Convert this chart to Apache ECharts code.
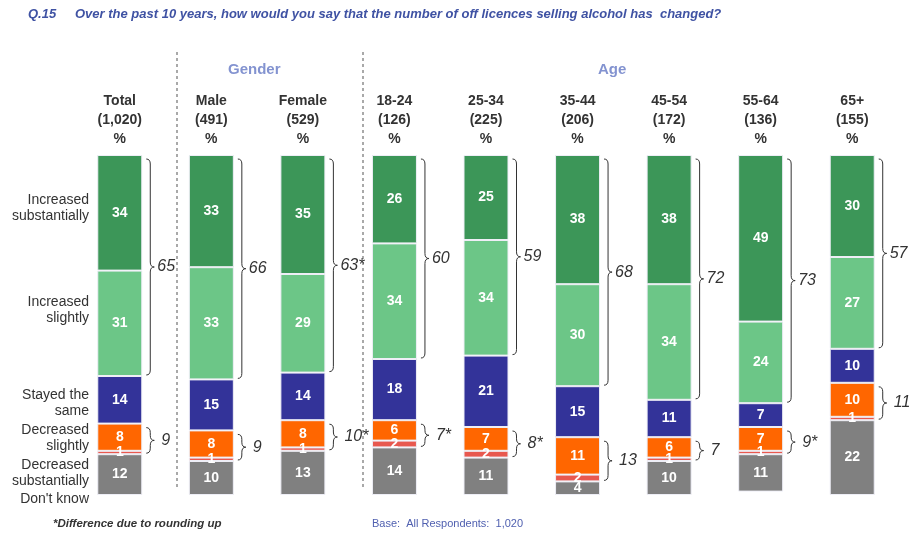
<!DOCTYPE html>
<html>
<head>
<meta charset="utf-8">
<script src="https://cdn.jsdelivr.net/npm/echarts@6/dist/echarts.min.js"></script>
<style>
  html, body { margin: 0; padding: 0; background: #fff; }
  #chart { width: 918px; height: 535px; }
</style>
</head>
<body>
<div id="chart"></div>
<script>
// column headers
const categories = ['Total', 'Male', 'Female', '18-24', '25-34', '35-44', '45-54', '55-64', '65+'];
const bases = ['1,020', '491', '529', '126', '225', '206', '172', '136', '155'];

// answers, top of the stack first
const incSubstantially = [34, 33, 35, 26, 25, 38, 38, 49, 30];
const incSlightly = [31, 33, 29, 34, 34, 30, 34, 24, 27];
const stayedSame = [14, 15, 14, 18, 21, 15, 11, 7, 10];
const decSlightly = [8, 8, 8, 6, 7, 11, 6, 7, 10];
const decSubstantially = [1, 1, 1, 2, 2, 2, 1, 1, 1];
const dontKnow = [12, 10, 13, 14, 11, 4, 10, 11, 22];

// net figures shown next to the braces
const netIncreased = ['65', '66', '63*', '60', '59', '68', '72', '73', '57'];
const netDecreased = ['9', '9', '10*', '7*', '8*', '13', '7', '9*', '11'];

const FONT = 'Liberation Sans, Arial, sans-serif';

const chart = echarts.init(document.getElementById('chart'), null, { renderer: 'canvas' });

function barSeries(name, data, color) {
  return {
    name: name,
    type: 'bar',
    stack: 'all',
    barWidth: 45,
    data: data,
    itemStyle: { color: color, borderColor: '#eeeef6', borderWidth: 1 },
    label: {
      show: true,
      position: 'inside',
      color: '#fff',
      fontWeight: 'bold',
      fontSize: 14,
      fontFamily: FONT,
    },
    emphasis: { disabled: true },
  };
}

// brace spans: [category, from, to]
const incBraces = categories.map((c, i) => [i, 0, incSubstantially[i] + incSlightly[i]]);
const decBraces = categories.map((c, i) => {
  const s = incSubstantially[i] + incSlightly[i] + stayedSame[i];
  return [i, s, s + decSlightly[i] + decSubstantially[i]];
});

function braceSeries(data, labels, inset, labelGap) {
  return {
    type: 'custom',
    coordinateSystem: 'cartesian2d',
    encode: { x: 0, y: [1, 2] },
    data: data,
    silent: true,
    z: 5,
    renderItem: function (params, api) {
      const p0 = api.coord([api.value(0), api.value(1)]);
      const p1 = api.coord([api.value(0), api.value(2)]);
      const x0 = p0[0] + 22.5 + 4;
      const y0 = p0[1] + inset;
      const y1 = p1[1] - 1;
      const ym = (y0 + y1) / 2;
      const w = 8;
      const r = Math.min(5, (y1 - y0) / 4);
      const xm = x0 + w / 2;
      const d =
        'M' + x0 + ' ' + y0 +
        ' Q' + xm + ' ' + y0 + ' ' + xm + ' ' + (y0 + r) +
        ' L' + xm + ' ' + (ym - r) +
        ' Q' + xm + ' ' + ym + ' ' + (x0 + w) + ' ' + ym +
        ' Q' + xm + ' ' + ym + ' ' + xm + ' ' + (ym + r) +
        ' L' + xm + ' ' + (y1 - r) +
        ' Q' + xm + ' ' + y1 + ' ' + x0 + ' ' + y1;
      return {
        type: 'group',
        children: [
          {
            type: 'path',
            shape: { pathData: d },
            style: { fill: 'none', stroke: '#333', lineWidth: 1 },
          },
          {
            type: 'text',
            x: x0 + w + labelGap,
            y: ym,
            style: {
              text: labels[params.dataIndex],
              fill: '#333',
              font: 'italic 16px ' + FONT,
              textAlign: 'left',
              textVerticalAlign: 'middle',
            },
          },
        ],
      };
    },
  };
}

function leftLabel(text, y) {
  return {
    type: 'text',
    right: 918 - 89,
    top: y,
    style: {
      text: text,
      fill: '#333',
      font: '14px ' + FONT,
      textAlign: 'right',
      lineHeight: 16,
    },
  };
}

function dashed(x) {
  return {
    type: 'line',
    shape: { x1: x, y1: 52, x2: x, y2: 487 },
    style: { stroke: '#555', lineWidth: 1, lineDash: [3, 3] },
  };
}

const option = {
  animation: false,
  backgroundColor: '#fff',
  grid: { left: 74, right: 20, top: 155, bottom: 40 },
  xAxis: {
    type: 'category',
    position: 'top',
    data: categories,
    axisLine: { show: false },
    axisTick: { show: false },
    axisLabel: {
      interval: 0,
      margin: 6,
      color: '#333',
      fontWeight: 'bold',
      fontSize: 14,
      fontFamily: FONT,
      lineHeight: 19,
      formatter: function (value, idx) {
        return value + '\n(' + bases[idx] + ')\n%';
      },
    },
  },
  yAxis: {
    type: 'value',
    inverse: true,
    min: 0,
    max: 100,
    show: false,
  },
  series: [
    barSeries('Increased substantially', incSubstantially, '#3c9658'),
    barSeries('Increased slightly', incSlightly, '#6cc687'),
    barSeries('Stayed the same', stayedSame, '#333399'),
    barSeries('Decreased slightly', decSlightly, '#ff6600'),
    barSeries('Decreased substantially', decSubstantially, '#e8584f'),
    barSeries("Don't know", dontKnow, '#808080'),
    braceSeries(incBraces, netIncreased, 4, 3),
    braceSeries(decBraces, netDecreased, 4, 7),
  ],
  graphic: [
    {
      type: 'text',
      left: 28,
      top: 8,
      style: { text: 'Q.15', fill: '#3f52a3', font: 'italic bold 13px ' + FONT },
    },
    {
      type: 'text',
      left: 75,
      top: 8,
      style: {
        text: 'Over the past 10 years, how would you say that the number of off licences selling alcohol has  changed?',
        fill: '#3f52a3',
        font: 'italic bold 13px ' + FONT,
      },
    },
    {
      type: 'text',
      left: 228,
      top: 62,
      style: { text: 'Gender', fill: '#8393d0', font: 'bold 15px ' + FONT },
    },
    {
      type: 'text',
      left: 598,
      top: 62,
      style: { text: 'Age', fill: '#8393d0', font: 'bold 15px ' + FONT },
    },
    dashed(177),
    dashed(363),
    leftLabel('Increased\nsubstantially', 192),
    leftLabel('Increased\nslightly', 294),
    leftLabel('Stayed the\nsame', 387),
    leftLabel('Decreased\nslightly', 422),
    leftLabel('Decreased\nsubstantially', 457),
    leftLabel("Don't know", 491),
    {
      type: 'text',
      left: 53,
      top: 518,
      style: { text: '*Difference due to rounding up', fill: '#333', font: 'italic bold 11.5px ' + FONT },
    },
    {
      type: 'text',
      left: 372,
      top: 518,
      style: { text: 'Base:  All Respondents:  1,020', fill: '#5060b0', font: '11px ' + FONT },
    },
  ],
};

chart.setOption(option);
</script>
</body>
</html>
